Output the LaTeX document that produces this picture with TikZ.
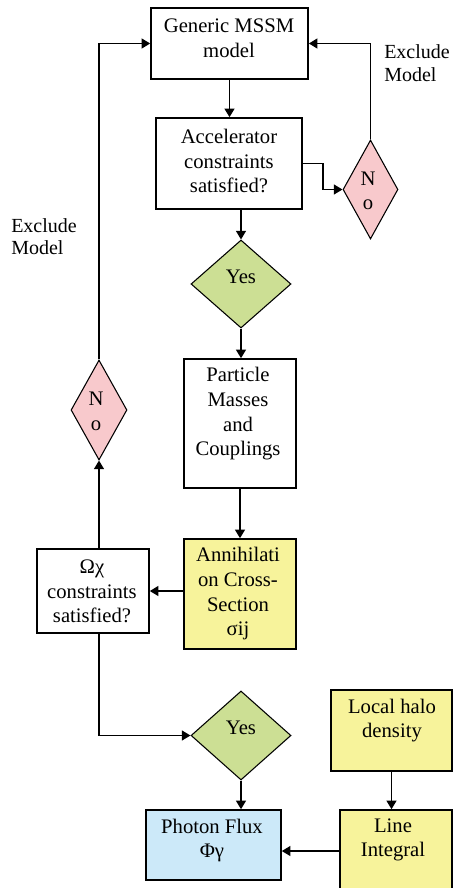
\documentclass[tikz,border=0pt]{standalone}
\usepackage{fontspec}
\setmainfont{Liberation Serif}
\usetikzlibrary{shapes.geometric,arrows.meta}
\definecolor{pinkfill}{HTML}{F8C9CC}
\definecolor{greenfill}{HTML}{CCDF94}
\definecolor{yellowfill}{HTML}{F7F39B}
\definecolor{bluefill}{HTML}{CCE9F9}
\tikzset{
  sz/.style 2 args={minimum width=#1*0.75pt, minimum height=#2*0.75pt},
  boxnode/.style={draw=black, line width=1.2pt, rectangle, inner sep=0pt},
  dia/.style={draw=black, line width=0.8pt, diamond, inner sep=0pt},
  txt/.style={align=center, inner sep=0pt, font=\fontsize{15.5pt}{18.5pt}\selectfont},
  lbl/.style={align=left, anchor=west, inner sep=0pt, font=\fontsize{15pt}{17pt}\selectfont},
  conn/.style={line width=1.1pt, -{Triangle[length=6.5pt,width=7.5pt]}},
}
\begin{document}
\begin{tikzpicture}[x=0.75pt,y=-0.75pt]
\useasboundingbox (0,0) rectangle (453,888);
\fill[white] (0,0) rectangle (453,888);
% boxes
\node[boxnode, sz={157}{71}] (gen) at (229.5,43.5) {};
\node[boxnode, sz={146}{91}] (acc) at (229,163.5) {};
\node[dia, fill=pinkfill, sz={55}{99}] (no1) at (370.5,189.5) {};
\node[dia, fill=greenfill, sz={100}{88}] (yes1) at (241,284) {};
\node[boxnode, sz={112}{129}] (part) at (240,423.5) {};
\node[boxnode, fill=yellowfill, sz={112}{110}] (ann) at (240,594) {};
\node[boxnode, sz={112}{84}] (omega) at (93,591) {};
\node[dia, fill=pinkfill, sz={56}{100}] (no2) at (99,410) {};
\node[dia, fill=greenfill, sz={100}{89}] (yes2) at (241,735.5) {};
\node[boxnode, fill=bluefill, sz={135}{70}] (photon) at (213.5,845) {};
\node[boxnode, fill=yellowfill, sz={121}{81}] (halo) at (391.5,730.5) {};
\node[boxnode, fill=yellowfill, sz={112}{82}] (line) at (396,851) {};
% texts
\node[txt] (gent) at (229,38.5) {Generic MSSM\\model};
\node[txt] (acct) at (229,161) {Accelerator\\constraints\\satisfied?};
\node[txt] (no1t) at (368,191) {N\\o};
\node[txt] (yes1t) at (241,277) {Yes};
\node[txt] (partt) at (238,414) {Particle\\Masses\\and\\Couplings};
\node[txt] (annt) at (238,594) {Annihilati\\on Cross-\\Section\\σij};
\node[txt] (omegat) at (92,591.5) {Ωχ\\constraints\\satisfied?};
\node[txt] (no2t) at (96,411.5) {N\\o};
\node[txt] (yes2t) at (241,728) {Yes};
\node[txt] (photont) at (212,840.5) {Photon Flux\\Φγ};
\node[txt] (halot) at (392,720.5) {Local halo\\density};
\node[txt] (linet) at (393,840) {Line\\Integral};
\node[lbl] (excl1) at (384,63) {Exclude\\Model};
\node[lbl] (excl2) at (11,236.5) {Exclude\\Model};
% connectors
\draw[conn] (gen.south) -- (gen.south |- acc.north);
\draw[conn] (acc.east) -- ++(20,0) |- (no1.west);
\draw[conn] (no1.north) |- (gen.east);
\draw[conn] (acc.south -| yes1) -- (yes1.north);
\draw[conn] (yes1.south) -- (yes1.south |- part.north);
\draw[conn] (part.south) -- (ann.north);
\draw[conn] (omega.east -| ann.west) -- (omega.east);
\draw[conn] (no2.south |- omega.north) -- (no2.south);
\draw[conn] (no2.north) |- (gen.west);
\draw[conn] (no2.south |- omega.south) |- (yes2.west);
\draw[conn] (yes2.south) -- (yes2.south |- photon.north);
\draw[conn] (halo.south) -- (halo.south |- line.north);
\draw[conn] (line.west) -- (line.west -| photon.east);
\end{tikzpicture}
\end{document}
